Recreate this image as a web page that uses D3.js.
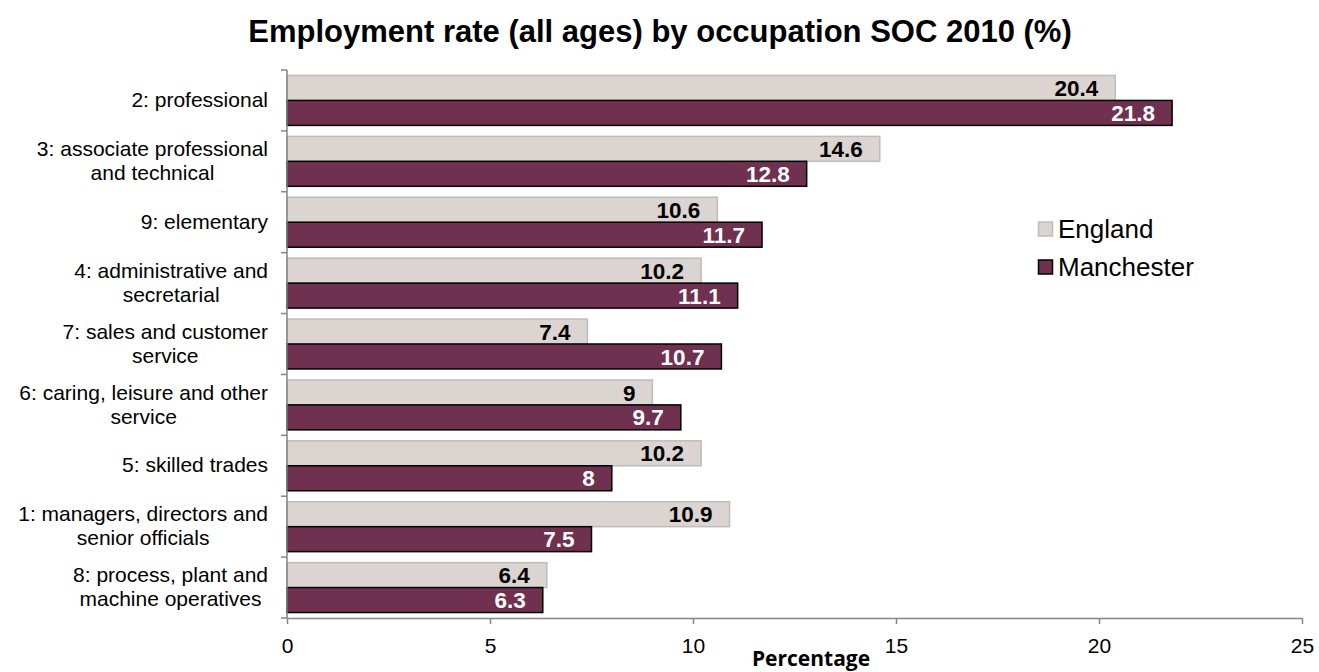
<!DOCTYPE html>
<html>
<head>
<meta charset="utf-8">
<script src="https://cdn.jsdelivr.net/npm/d3@7"></script>
<style>
  body { margin: 0; background: #fff; }
  svg { display: block; font-family: "Liberation Sans", Arial, sans-serif; }
</style>
</head>
<body>
<svg id="chart" width="1319" height="672"></svg>
<script>
// Occupation groups (SOC 2010), top to bottom
const categories = [
  "2: professional",
  "3: associate professional\nand technical",
  "9: elementary",
  "4: administrative and\nsecretarial",
  "7: sales and customer\nservice",
  "6: caring, leisure and other\nservice",
  "5: skilled trades",
  "1: managers, directors and\nsenior officials",
  "8: process, plant and\nmachine operatives"
];
const england    = [20.4, 14.6, 10.6, 10.2, 7.4, 9, 10.2, 10.9, 6.4];
const manchester = [21.8, 12.8, 11.7, 11.1, 10.7, 9.7, 8, 7.5, 6.3];
const seriesNames = ["England", "Manchester"];
const xTicks = [0, 5, 10, 15, 20, 25];

const svg = d3.select("#chart");
const plotLeft = 287, plotRight = 1302, plotTop = 70, plotBottom = 618;

const x = d3.scaleLinear().domain([0, 25]).range([plotLeft, plotRight]);
const y = d3.scaleBand().domain(categories).range([plotTop, plotBottom]).paddingInner(0.18).paddingOuter(0.09);
const sub = d3.scaleBand().domain(seriesNames).range([0, y.bandwidth()]);

const styles = {
  England:    { fill: "#dbd4d0", stroke: "#bdbdbd", text: "#000" },
  Manchester: { fill: "#70304f", stroke: "#000",    text: "#fff" }
};

// Title
svg.append("text")
  .attr("x", 660).attr("y", 42)
  .attr("text-anchor", "middle")
  .attr("font-size", 31).attr("font-weight", "bold")
  .text("Employment rate (all ages) by occupation SOC 2010 (%)");

// Bars
const rows = categories.map((c, i) => ({ c, England: england[i], Manchester: manchester[i] }));
seriesNames.forEach(s => {
  const g = svg.append("g");
  g.selectAll("rect").data(rows).join("rect")
    .attr("x", x(0))
    .attr("y", d => y(d.c) + sub(s))
    .attr("width", d => x(d[s]) - x(0))
    .attr("height", sub.bandwidth())
    .attr("fill", styles[s].fill)
    .attr("stroke", styles[s].stroke)
    .attr("stroke-width", 1.5);
});
// Value labels, inside end of each bar
seriesNames.forEach(s => {
  svg.append("g").selectAll("text").data(rows).join("text")
    .attr("x", d => x(d[s]) - 17)
    .attr("y", d => y(d.c) + sub(s) + sub.bandwidth() / 2)
    .attr("dy", "0.36em")
    .attr("text-anchor", "end")
    .attr("font-size", 22.5).attr("font-weight", "bold")
    .attr("fill", styles[s].text)
    .text(d => d[s]);
});

// Y axis (category), ticks between groups
const axisColor = "#868686";
svg.append("line").attr("x1", plotLeft).attr("x2", plotLeft).attr("y1", plotTop).attr("y2", plotBottom)
  .attr("stroke", axisColor).attr("stroke-width", 1.5);
d3.range(categories.length + 1).forEach(i => {
  const yy = plotTop + i * (plotBottom - plotTop) / categories.length;
  svg.append("line").attr("x1", plotLeft - 6).attr("x2", plotLeft).attr("y1", yy).attr("y2", yy)
    .attr("stroke", axisColor).attr("stroke-width", 1.5);
});
// Category labels: block right-aligned to the axis, wrapped lines centred within the block
const labelRight = 268;
categories.forEach(c => {
  const lines = c.split("\n");
  const cy = y(c) + y.bandwidth() / 2;
  const t = svg.append("text").attr("text-anchor", "middle").attr("font-size", 21).attr("fill", "#000");
  const spans = lines.map((ln, j) => t.append("tspan")
    .attr("y", cy + (j - (lines.length - 1) / 2) * 24)
    .attr("dy", "0.32em").text(ln));
  const widest = d3.max(spans, sp => sp.node().getComputedTextLength());
  spans.forEach(sp => sp.attr("x", labelRight - widest / 2));
});

// X axis
const xAxis = svg.append("g").attr("transform", `translate(0,${plotBottom})`)
  .call(d3.axisBottom(x).tickValues(xTicks).tickSize(6).tickSizeOuter(0).tickPadding(14));
xAxis.select(".domain").attr("stroke", axisColor).attr("stroke-width", 1.5);
xAxis.selectAll(".tick line").attr("stroke", axisColor).attr("stroke-width", 1.5);
xAxis.selectAll(".tick text").attr("font-size", 21).attr("fill", "#000")
  .attr("font-family", "Liberation Sans, Arial, sans-serif");

svg.append("text")
  .attr("x", 811).attr("y", 666)
  .attr("text-anchor", "middle")
  .attr("font-family", "Open Sans, sans-serif")
  .attr("font-size", 21).attr("font-weight", "bold")
  .text("Percentage");

// Legend
const legend = svg.append("g");
seriesNames.forEach((s, i) => {
  const ly = 229 + i * 38;
  legend.append("rect").attr("x", 1038.5).attr("y", ly - 7).attr("width", 14).attr("height", 14)
    .attr("fill", styles[s].fill).attr("stroke", styles[s].stroke).attr("stroke-width", 1.5);
  legend.append("text").attr("x", 1058).attr("y", ly + 9)
    .attr("font-size", 26).text(s);
});
</script>
</body>
</html>
